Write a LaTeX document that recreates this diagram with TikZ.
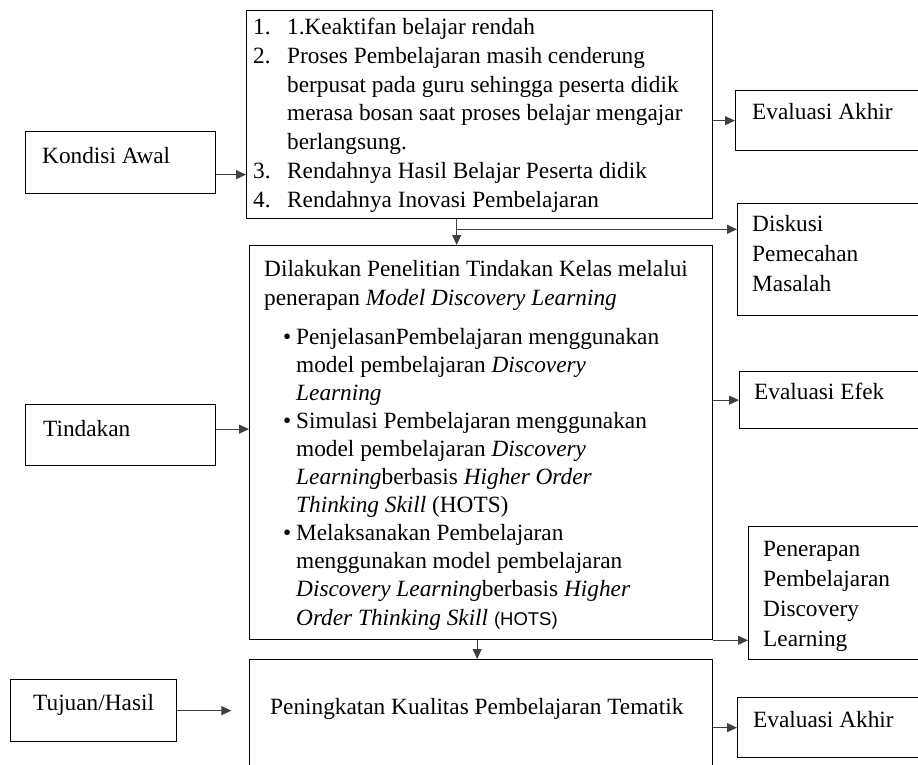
\documentclass[tikz,border=0pt]{standalone}
\usepackage{fontspec}
\setmainfont{Liberation Serif}
\newfontfamily\hotsfont{Liberation Sans}
\usepackage{array}
\usetikzlibrary{arrows.meta,positioning}

\begin{document}
\begin{tikzpicture}[
  x=1pt, y=-1pt,
  >={Triangle[length=10pt,width=9pt]},
  font=\fontsize{23.3}{28.8}\selectfont,
  box/.style={draw, line width=1.3pt, inner sep=0pt, anchor=north west},
  lbl/.style={anchor=base west, inner sep=0pt},
  conn/.style={->, draw=black!75, line width=0.9pt}
]
\clip (0,0) rectangle (918,765);

% ---------- LEFT COLUMN ----------
\node[box, minimum width=190pt, minimum height=62pt] (kondisi) at (25,131) {};
\node[lbl] (tkondisi) at (42,163.5) {Kondisi Awal};
\node[box, minimum width=190pt, minimum height=61pt] (tindakan) at (25,404) {};
\node[lbl] (ttindakan) at (43,436) {Tindakan};
\node[box, minimum width=166pt, minimum height=62pt] (tujuan) at (10,679) {};
\node[lbl] (ttujuan) at (33,710.5) {Tujuan/Hasil};

% ---------- MIDDLE COLUMN ----------
\node[box, minimum width=466pt, minimum height=208pt] (masalah) at (246,10) {};
\node[lbl] (tmasalah) at (253,34.5) {%
  \begin{tabular}[t]{@{}p{34pt}@{}l@{}}
  1. & 1.Keaktifan belajar rendah\\
  2. & Proses Pembelajaran masih cenderung\\
     & berpusat pada guru sehingga peserta didik\\
     & merasa bosan saat proses belajar mengajar\\
     & berlangsung.\\
  3. & Rendahnya Hasil Belajar Peserta didik\\
  4. & Rendahnya Inovasi Pembelajaran
  \end{tabular}};

\node[box, minimum width=463pt, minimum height=394pt] (aksi) at (249,245) {};
\node[lbl, font=\fontsize{23.3}{29}\selectfont] (taksi) at (264,276) {%
  \begin{tabular}[t]{@{}l@{}}
  Dilakukan Penelitian Tindakan Kelas melalui\\
  penerapan \textit{Model Discovery Learning}
  \end{tabular}};
\node[lbl, font=\fontsize{23.3}{28.1}\selectfont] (tlangkah) at (283,344) {%
  \begin{tabular}[t]{@{}p{13pt}@{}l@{}}
  \textbullet & PenjelasanPembelajaran menggunakan\\
              & model pembelajaran \textit{Discovery}\\
              & \textit{Learning}\\
  \textbullet & Simulasi Pembelajaran menggunakan\\
              & model pembelajaran \textit{Discovery}\\
              & \textit{Learning}berbasis \textit{Higher Order}\\
              & \textit{Thinking Skill} (HOTS)\\
  \textbullet & Melaksanakan Pembelajaran\\
              & menggunakan model pembelajaran\\
              & \textit{Discovery Learning}berbasis \textit{Higher}\\
              & \textit{Order Thinking Skill} {\hotsfont\fontsize{18.5}{28.1}\selectfont (HOTS)}
  \end{tabular}};

\node[box, minimum width=463pt, minimum height=130pt] (tingkat) at (249,659) {};
\node[lbl] (ttingkat) at (270,714) {Peningkatan Kualitas Pembelajaran Tematik};

% ---------- RIGHT COLUMN ----------
\node[box, minimum width=200pt, minimum height=60pt] (akhirA) at (735,90) {};
\node[lbl] (takhirA) at (752,119.5) {Evaluasi Akhir};
\node[box, minimum width=200pt, minimum height=112pt] (diskusi) at (737,203) {};
\node[lbl, font=\fontsize{23.3}{30}\selectfont] (tdiskusi) at (752,231.7) {%
  \begin{tabular}[t]{@{}l@{}}
  Diskusi\\ Pemecahan\\ Masalah
  \end{tabular}};
\node[box, minimum width=200pt, minimum height=57pt] (efek) at (739,371) {};
\node[lbl] (tefek) at (754,399) {Evaluasi Efek};
\node[box, minimum width=200pt, minimum height=133pt] (terap) at (748,526) {};
\node[lbl, font=\fontsize{23.3}{30}\selectfont] (tterap) at (763,556.7) {%
  \begin{tabular}[t]{@{}l@{}}
  Penerapan\\ Pembelajaran\\ Discovery\\ Learning
  \end{tabular}};
\node[box, minimum width=200pt, minimum height=60pt] (akhirB) at (737,697) {};
\node[lbl] (takhirB) at (753,727) {Evaluasi Akhir};

% ---------- CONNECTORS ----------
\coordinate (k1) at ([yshift=-12pt]kondisi.east);
\draw[conn] (k1) -- (k1 -| masalah.west);
\coordinate (t1) at ([yshift=6pt]tindakan.east);
\draw[conn] (t1) -- (t1 -| aksi.west);
\coordinate (ujung) at ([xshift=54pt]tujuan.east);
\draw[conn] (tujuan.east) -- (ujung);

\draw[conn] (masalah.east |- akhirA.west) -- (akhirA.west);
\coordinate (pisah) at ([xshift=-23pt]masalah.south);
\draw[conn] (pisah) -- (pisah |- aksi.north);
\coordinate (cabang) at ([yshift=-10pt]pisah);
\draw[conn] (cabang) -- (cabang -| diskusi.west);

\draw[conn] (aksi.east |- efek.west) -- (efek.west);
\draw[conn] (aksi.south east) -- (aksi.south east -| terap.west);
\coordinate (turun) at ([xshift=-4pt]aksi.south);
\draw[conn] (turun) -- (turun |- tingkat.north);
\draw[conn] (tingkat.east |- akhirB.west) -- (akhirB.west);

\end{tikzpicture}
\end{document}
